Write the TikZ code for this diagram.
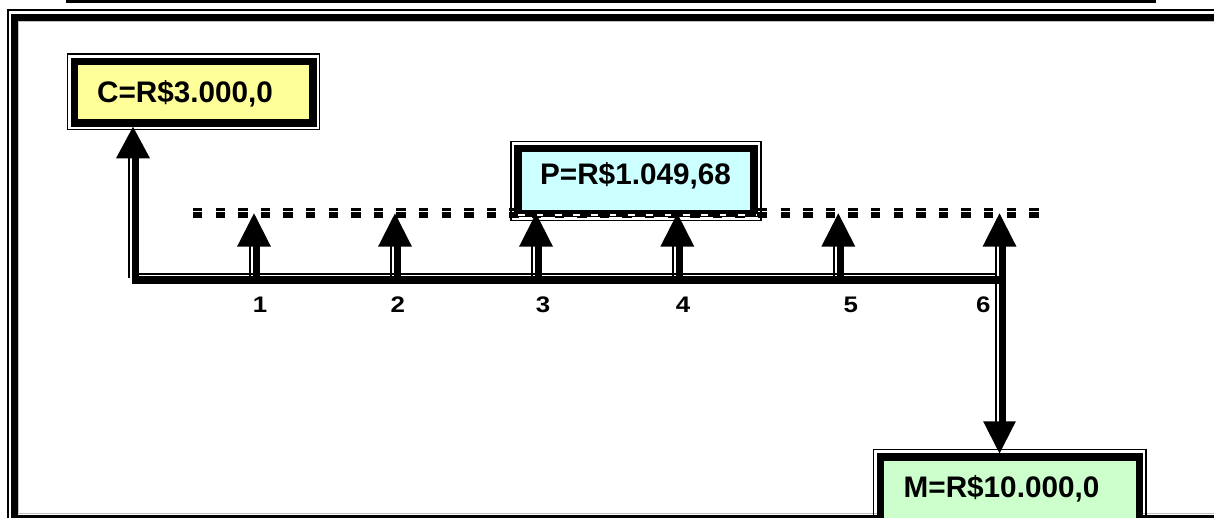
\documentclass[tikz,border=0pt]{standalone}
\usepackage{fontspec}
\setmainfont{Liberation Sans}
\newfontfamily\tickfont[FakeStretch=1.15]{Liberation Sans Bold}
\usetikzlibrary{calc}
\definecolor{cfill}{HTML}{FFFF99}
\definecolor{pfill}{HTML}{CCFFFF}
\definecolor{mfill}{HTML}{CCFFCC}

% up arrow of a payment: #1 = tip, #2 = foot on the time line
\newcommand\payflow[2]{%
  \draw[thinline] ($(#1)+(-4.3,33)$) -- ($(#2)+(-4.3,-1.7)$);
  \draw[thickline] ($(#1)+(2,33)$) -- ($(#2)+(2,0)$);
  \fill ($(#1)+(-17,33.4)$) -- (#1) -- ($(#1)+(17,33.4)$) -- cycle;
}

\begin{document}
\begin{tikzpicture}[x=1pt,y=-1pt,
  thinline/.style={line width=1.6pt},
  thickline/.style={line width=7pt},
  valbox/.style={draw, rectangle, line width=7.5pt, inner sep=0pt},
  outerline/.style={line width=1.4pt},
  valtext/.style={font=\fontsize{29.7}{30}\selectfont\bfseries, inner sep=0pt, anchor=base},
  ticklabel/.style={font=\fontsize{22.5}{23}\selectfont\tickfont, inner sep=0pt, anchor=base},
  dashline/.style={dash pattern=on 9.3pt off 13.3pt}
]
\useasboundingbox (0,0) rectangle (1214,517);
\clip (0,0) rectangle (1214,517);

% page rule and outer frame
\draw[line width=4.5pt] (66,1) -- (1156,1);
\draw[line width=1.3pt] (8,600) -- (8,10) -- (1300,10);
\draw[line width=7pt] (1300,17) -- (14.2,17) -- (14.2,518.5) -- (1300,518.5);
\draw[gray!50, line width=0.8pt] (1300,21.3) -- (18.1,21.3) -- (18.1,513.5) -- (1300,513.5);

% time points
\coordinate (c0) at (133,280);
\coordinate (t1) at (254,280);
\coordinate (t2) at (395,280);
\coordinate (t3) at (536,280);
\coordinate (t4) at (677.3,280);
\coordinate (t5) at (838.3,280);
\coordinate (t6) at (999.5,280);
\coordinate (lvl) at (0,213.3);

% level of the payments
\coordinate (d0) at (193,212.85);
\coordinate (d1) at (1040,212.85);
\draw[dashline, line width=9.7pt] (d0) -- (d1);
\draw[dashline, white, line width=1.4pt] ($(d0)+(0,-1.3)$) -- ($(d1)+(0,-1.3)$);

% value boxes
\node[valbox, fill=cfill, minimum width=238.5pt, minimum height=61.7pt] (C) at (193.75,92.15) {};
\draw[outerline] ($(C.north west)+(-3,-3.4)$) rectangle ($(C.south east)+(3,3)$);
\node[valtext] (Ct) at (185,102) {C=R\$3.000,0};

\node[valbox, fill=pfill, minimum width=236.2pt, minimum height=65.2pt] (P) at (636.1,181.1) {};
\draw[outerline] ($(P.north west)+(-3.2,-3)$) rectangle ($(P.south east)+(3.2,3)$);
\draw[white, line width=1.3pt, dash pattern=on 6.7pt off 11.6pt] ($(P.south west)+(4,-2.5)$) -- ($(P.south east)+(-1,-2.5)$);
\node[valtext] (Pt) at (635.5,184.3) {P=R\$1.049,68};

\node[valbox, fill=mfill, minimum width=258.8pt, minimum height=82.8pt] (M) at (1009.9,498.6) {};
\draw[outerline] ($(M.north west)+(-3.5,-4)$) rectangle ($(M.south east)+(3,3)$);
\node[valtext] (Mt) at (1001.5,497) {M=R\$10.000,0};

% time line with the capital at time 0
\draw[thickline, line width=7.4pt] ($(c0)+(2.5,-122)$) -- ($(c0)+(2.5,0)$) -- (t6);
\draw[thinline] ($(c0)+(6,-6)$) -- ($(t6)+(-3.5,-6)$);
\draw[thinline] ($(c0)+(-3.8,-122)$) -- ($(c0)+(-3.8,-1.7)$);
\fill ($(C.south -| c0)+(-17,31.6)$) -- (C.south -| c0) -- ($(C.south -| c0)+(17,31.6)$) -- cycle;

% payments
\payflow{t1 |- lvl}{t1}
\payflow{t2 |- lvl}{t2}
\payflow{t3 |- lvl}{t3}
\payflow{t4 |- lvl}{t4}
\payflow{t5 |- lvl}{t5}

% last payment and the final amount
\coordinate (u6) at (t6 |- lvl);
\coordinate (m6) at (M.north -| t6);
\draw[thinline] ($(u6)+(-3.8,33)$) -- ($(m6)+(-3.8,-31)$);
\draw[thickline, line width=6.5pt] ($(u6)+(3,33)$) -- ($(m6)+(3,-31)$);
\fill ($(u6)+(-17,33.4)$) -- (u6) -- ($(u6)+(17,33.4)$) -- cycle;
\fill ($(m6)+(-16.3,-32)$) -- (m6) -- ($(m6)+(16.3,-32)$) -- cycle;

% period labels
\node[ticklabel] (l1) at (260,312) {1};
\node[ticklabel] (l2) at (397.7,312) {2};
\node[ticklabel] (l3) at (543,312) {3};
\node[ticklabel] (l4) at (683,312) {4};
\node[ticklabel] (l5) at (850.7,312) {5};
\node[ticklabel] (l6) at (983.3,312) {6};
\end{tikzpicture}
\end{document}
